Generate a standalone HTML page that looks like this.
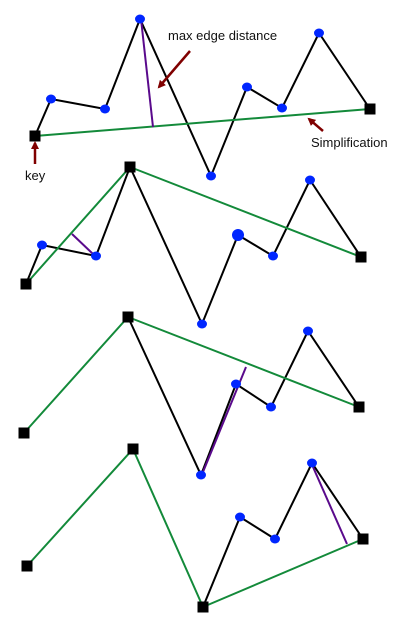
<!DOCTYPE html>
<html><head><meta charset="utf-8">
<style>
html,body{margin:0;padding:0;background:#fff;}
svg{display:block;}
text{font-family:"Liberation Sans",sans-serif;font-size:13px;fill:#111;}
</style></head>
<body>
<svg id="c" width="420" height="620" viewBox="0 0 420 620">
<defs>
<marker id="ah" markerWidth="8" markerHeight="8" refX="6" refY="4" orient="auto" markerUnits="userSpaceOnUse">
<path d="M0,0 L8,4 L0,8 z" fill="#800000"/></marker>
</defs>
<g id="panels"></g>
<line x1="190" y1="51" x2="159" y2="87" stroke="#800000" stroke-width="2.5" marker-end="url(#ah)"/>
<text x="168" y="40">max edge distance</text>
<line x1="323" y1="131" x2="309" y2="119" stroke="#800000" stroke-width="2.5" marker-end="url(#ah)"/>
<text x="311" y="147">Simplification</text>
<line x1="35" y1="164" x2="35" y2="143" stroke="#800000" stroke-width="2.5" marker-end="url(#ah)"/>
<text x="25" y="180">key</text>
</svg>
<script>
const p1x=[35,51,105,140,211,247,282,319,370];
const p1y=[136,99,109,19,176,87,108,33,109];
const p1keys=[0,8];
const p1simp=[0,8];
const p1perp=[141,19,153,127];

const p2x=[26,42,96,130,202,238,273,310,361];
const p2y=[284,245,256,167,324,235,256,180,257];
const p2keys=[0,3,8];
const p2simp=[0,3,8];
const p2perp=[72,234,93,254];
const p2big=[5];

const p3x=[24,128,201,236,271,308,359];
const p3y=[433,317,475,384,407,331,407];
const p3keys=[0,1,6];
const p3simp=[0,1,6];
const p3line=[1,2,3,4,5,6];
const p3perp=[203,472,246,367];

const p4x=[27,133,203,240,275,312,363];
const p4y=[566,449,607,517,539,463,539];
const p4keys=[0,1,2,6];
const p4simp=[0,1,2,6];
const p4line=[2,3,4,5,6];
const p4perp=[313,467,347,544];

const NS="http://www.w3.org/2000/svg";
const root=document.getElementById('panels');
function mk(t,a){const e=document.createElementNS(NS,t);for(const k in a)e.setAttribute(k,a[k]);return e;}
function panel(n,xs,ys,keys,simp,perp,lineIdx,big){
  const g=mk('g',{});
  
  
  root.appendChild(g);
  const idx=lineIdx||xs.map((_,i)=>i);
  const pl=mk('polyline',{points:idx.map(i=>xs[i]+','+ys[i]).join(' '),fill:'none',stroke:'#000','stroke-width':2});
  
  
  g.appendChild(pl);
  const sl=mk('polyline',{points:simp.map(i=>xs[i]+','+ys[i]).join(' '),fill:'none',stroke:'#138a3a','stroke-width':2});
  
  
  g.appendChild(sl);
  const pp=mk('line',{x1:perp[0],y1:perp[1],x2:perp[2],y2:perp[3],stroke:'#5a0a8c','stroke-width':2});
  
  
  g.appendChild(pp);
  idx.forEach(i=>{
    if(!keys.includes(i)){
      const b=big&&big.includes(i);
      const c=mk('ellipse',{cx:xs[i],cy:ys[i],rx:b?6:5,ry:b?6:4.5,fill:'#0026ff'});
      
      
      g.appendChild(c);
    }
  });
  keys.forEach(i=>{
    const r=mk('rect',{x:xs[i]-5.5,y:ys[i]-5.5,width:11,height:11,fill:'#000'});
    
    
    g.appendChild(r);
  });
}
panel(1,p1x,p1y,p1keys,p1simp,p1perp);
panel(2,p2x,p2y,p2keys,p2simp,p2perp,null,p2big);
panel(3,p3x,p3y,p3keys,p3simp,p3perp,p3line);
panel(4,p4x,p4y,p4keys,p4simp,p4perp,p4line);
</script>
</body></html>
